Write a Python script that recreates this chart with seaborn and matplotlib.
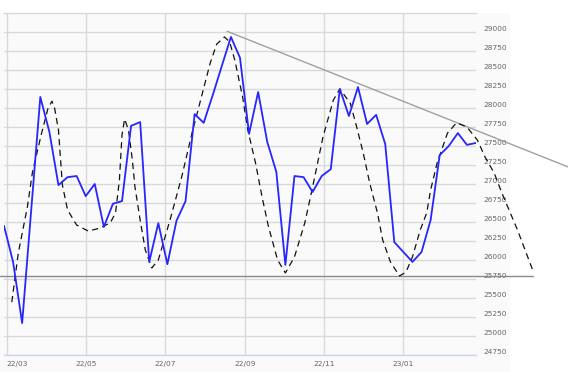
import numpy as np
import pandas as pd
import matplotlib
matplotlib.use("Agg")
import matplotlib.pyplot as plt
import matplotlib.dates as mdates
from matplotlib.patches import Rectangle
import seaborn as sns

# ---------------- data ----------------
start_date = "2022-02-27"
price = [26450, 25975, 25170, 26660, 28145, 27685, 26985, 27090, 27105, 26840,
         27000, 26435, 26740, 26775, 27765, 27815, 25975, 26485, 25945, 26515,
         26775, 27920, 27805, 28170, 28555, 28935, 28660, 27660, 28210, 27555,
         27160, 25935, 27105, 27090, 26895, 27105, 27195, 28250, 27895, 28275,
         27790, 27910, 27525, 26235, 26105, 25975, 26105, 26525, 27380, 27500,
         27670, 27515, 27540]

cycle_days = [6, 11, 18, 22, 29, 34, 37, 39, 42, 45, 49, 56, 65, 74, 82, 86, 89,
              91, 93, 96, 99, 101, 105, 109, 114, 119, 128, 137, 145, 153, 159,
              164, 170, 174, 178, 184, 188, 194, 199, 204, 211, 217, 224, 232,
              238, 246, 254, 259, 267, 272, 277, 282, 288, 292, 298, 305, 310,
              315, 321, 326, 329, 334, 342, 349, 357, 365, 371, 378, 384, 396, 408]
cycle_vals = [25445, 26090, 26695, 27160, 27670, 28000, 28090, 28000, 27710, 26990,
              26660, 26460, 26380, 26420, 26490, 26620, 27050, 27645, 27855, 27710,
              27315, 26960, 26525, 26130, 25895, 26000, 26525, 27090, 27670, 28195,
              28590, 28840, 28935, 28870, 28630, 28145, 27710, 27275, 26830, 26435,
              26000, 25830, 26040, 26490, 26960, 27620, 28105, 28250, 28065, 27750,
              27410, 27015, 26620, 26265, 25975, 25790, 25840, 26040, 26395, 26620,
              26920, 27275, 27670, 27805, 27750, 27580, 27355, 27145, 26880, 26395, 25855]

trend_days = [172, 435]
trend_vals = [29010, 27225]

support_level = 25790
support_days = [-3, 408]

x_tick_dates = ["2022-03-01", "2022-05-01", "2022-07-01", "2022-09-01",
                "2022-11-01", "2023-01-01"]
x_tick_labels = ["22/03", "22/05", "22/07", "22/09", "22/11", "23/01"]
y_ticks = list(range(24750, 29001, 250))

# ---------------- build frames ----------------
t0 = pd.Timestamp(start_date)
df_price = pd.DataFrame({"date": pd.date_range(t0, periods=len(price), freq="7D"),
                         "value": price})
df_cycle = pd.DataFrame({"date": t0 + pd.to_timedelta(cycle_days, unit="D"),
                         "value": cycle_vals})
trend_dates = t0 + pd.to_timedelta(trend_days, unit="D")
support_dates = t0 + pd.to_timedelta(support_days, unit="D")

# ---------------- figure ----------------
sns.set_style("white")
plt.rcParams["font.family"] = ["DejaVu Sans"]

W, H = 568, 379
fig = plt.figure(figsize=(W / 100, H / 100), dpi=100, facecolor="white")
fig.patches.append(Rectangle((0, 7 / H), 510 / W, (372 - 13) / H,
                             transform=fig.transFigure, facecolor="#fafafa",
                             edgecolor="none", zorder=-10))
ax = fig.add_axes([4 / W, (H - 355) / H, (476 - 4) / W, (355 - 13) / H])
ax.set_facecolor("none")

grid_c = "#d9d9d9"
px = 0.72  # one pixel in points

sns.lineplot(data=df_price, x="date", y="value", ax=ax, color="#2626ff",
             linewidth=1.3, zorder=4, legend=False)
sns.lineplot(data=df_cycle, x="date", y="value", ax=ax, color="#111111",
             linewidth=0.9, zorder=3, legend=False, sort=False)
cyc_line = ax.lines[-1]
cyc_line.set_dashes([5, 3.5])
cyc_line.set_clip_on(False)

tl, = ax.plot(trend_dates, trend_vals, color="#a0a0a0", linewidth=1.0, zorder=2)
tl.set_clip_on(False)
sl, = ax.plot(support_dates, [support_level, support_level], color="#8a8a8a",
              linewidth=1.0, zorder=2)
sl.set_clip_on(False)

ax.set_xlim(df_price["date"].iloc[0], df_price["date"].iloc[-1])
ax.set_ylim(24750, 29250)

ax.set_xticks(pd.to_datetime(x_tick_dates))
ax.set_xticklabels(x_tick_labels)
ax.set_yticks(y_ticks)
ax.set_yticklabels([str(v) for v in y_ticks])

ax.yaxis.tick_right()
ax.tick_params(axis="y", length=0, pad=5, labelsize=5.3, labelcolor="#666666")
ax.tick_params(axis="x", length=0, pad=4, labelsize=5.3, labelcolor="#666666")
for lab in ax.get_yticklabels():
    lab.set_va("bottom")
ax.get_xticklabels()[0].set_ha("left")

ax.grid(True, axis="both", color=grid_c, linewidth=1.4 * px)
ax.set_axisbelow(True)
for s in ["left", "right"]:
    ax.spines[s].set_visible(False)
ax.spines["top"].set_color(grid_c)
ax.spines["top"].set_linewidth(1.4 * px)
ax.spines["bottom"].set_color("#ccd6eb")
ax.spines["bottom"].set_linewidth(1.0)
ax.set_xlabel("")
ax.set_ylabel("")

fig.savefig("out.png", dpi=100, facecolor="white")
